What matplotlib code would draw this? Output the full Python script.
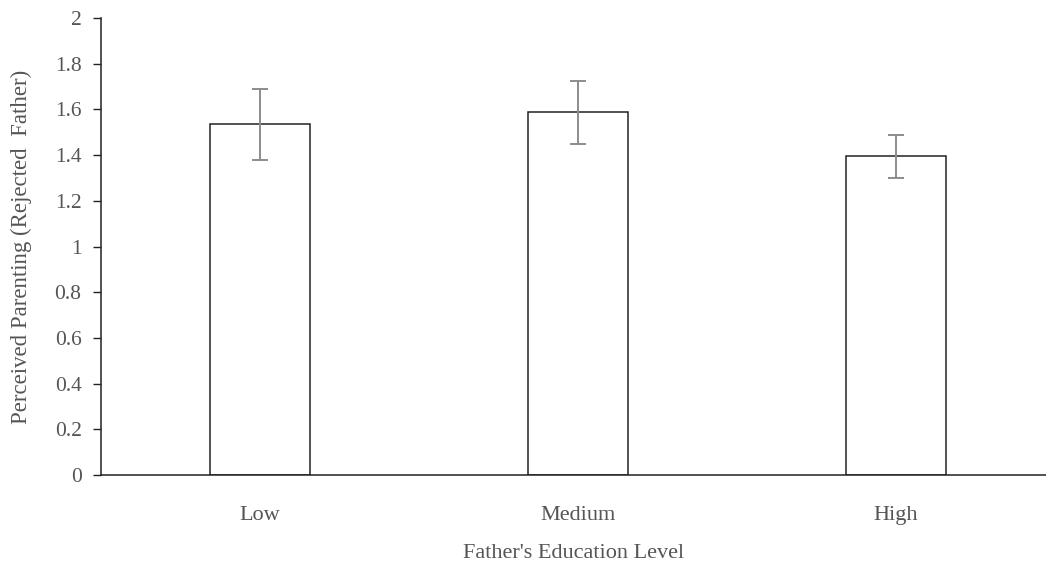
import matplotlib.pyplot as plt

plt.rcParams['font.family'] = ['Liberation Serif', 'DejaVu Serif']

categories = ['Low', 'Medium', 'High']
means = [1.535, 1.59, 1.395]
err_low = [1.38, 1.45, 1.30]
err_high = [1.69, 1.725, 1.49]

yerr = [[m - lo for m, lo in zip(means, err_low)],
        [hi - m for m, hi in zip(means, err_high)]]

fig = plt.figure(figsize=(10.46, 5.68), dpi=100)
ax = fig.add_axes([101 / 1046, 1 - 475 / 568, 1 - 101 / 1046, (475 - 18) / 568])

x = range(len(categories))
ax.bar(x, means, width=0.315, color='white', edgecolor='#222222', linewidth=1.1, zorder=2)
ax.errorbar(x, means, yerr=yerr, fmt='none', ecolor='#8c8c8c', elinewidth=1.4,
            capsize=6, capthick=1.4, zorder=3)

ax.set_xlim(-0.5, 2.472)
ax.set_ylim(0, 2)
ax.set_yticks([0, 0.2, 0.4, 0.6, 0.8, 1, 1.2, 1.4, 1.6, 1.8, 2])
ax.set_yticklabels(['0', '0.2', '0.4', '0.6', '0.8', '1', '1.2', '1.4', '1.6', '1.8', '2'])
ax.set_xticks(list(x))
ax.set_xticklabels(categories)

for s in ['top', 'right']:
    ax.spines[s].set_visible(False)
for s in ['left', 'bottom']:
    ax.spines[s].set_color('#222222')
    ax.spines[s].set_linewidth(1.1)

ax.tick_params(axis='y', direction='out', length=6, width=1, color='#222222',
               labelsize=15.5, labelcolor='#555555', pad=8)
ax.tick_params(axis='x', length=0, labelsize=16, labelcolor='#555555', pad=22)

ax.set_xlabel("Father's Education Level", fontsize=16, color='#555555', labelpad=14)
ax.set_ylabel('Perceived Parenting (Rejected  Father)', fontsize=16.5, color='#555555', labelpad=16)

fig.savefig('out.png', dpi=100)
